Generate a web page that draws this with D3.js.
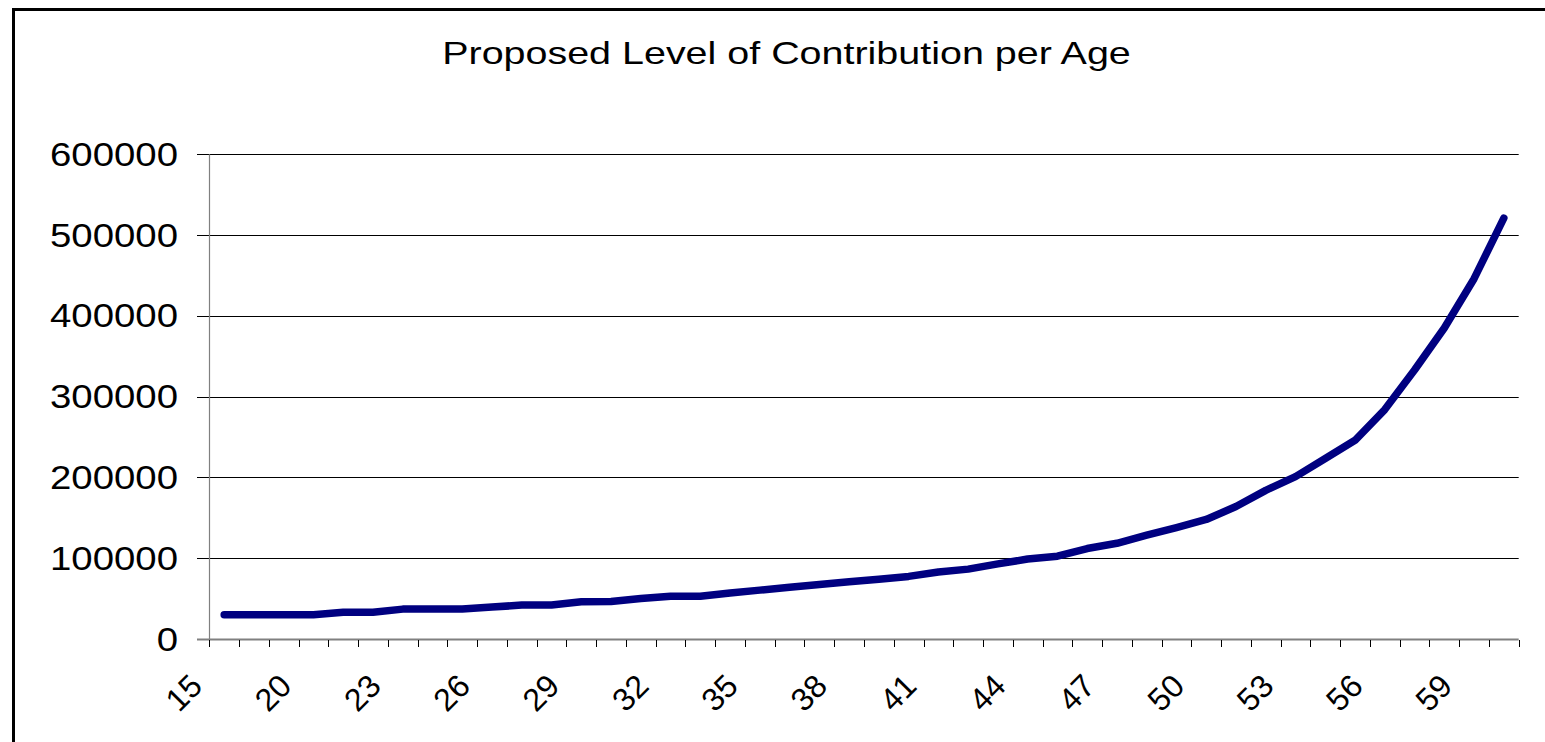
<!DOCTYPE html>
<html>
<head>
<meta charset="utf-8">
<script src="https://cdn.jsdelivr.net/npm/d3@7"></script>
<style>
  html, body { margin: 0; padding: 0; background: #ffffff; overflow: hidden; }
  svg { display: block; }
  text { font-family: "Liberation Sans", Arial, sans-serif; fill: #000; }
</style>
</head>
<body>
<svg id="chart" width="1545" height="742"></svg>
<script>
// Age categories along the horizontal axis
const ages = [15, 18, 19, 20, 21, 22, 23, 24, 25, 26, 27, 28, 29, 30, 31, 32, 33, 34, 35, 36, 37, 38,
              39, 40, 41, 42, 43, 44, 45, 46, 47, 48, 49, 50, 51, 52, 53, 54, 55, 56, 57, 58, 59, 60];

// Proposed contribution level for each age
const contribution = [30000, 30000, 30000, 30000, 33000, 33000, 37000, 37000, 37000, 39500,
                      42000, 42000, 46000, 46500, 50000, 53000, 53000, 57000, 60500, 64000,
                      67500, 71000, 74000, 77500, 83000, 86500, 93000, 99000, 102500, 112000,
                      118500, 128500, 138000, 148000, 164000, 184000, 201000, 223500, 246000, 284000,
                      333000, 385000, 446000, 521000];

// Value axis ticks
const yTicks = [0, 100000, 200000, 300000, 400000, 500000, 600000];

// Every third age gets a label
const xLabelAges = ages.filter((d, i) => i % 3 === 0);

const chartTitle = "Proposed Level of Contribution per Age";

const svg = d3.select("#chart");

const plot = { left: 209.3, right: 1518.7, top: 154.3, bottom: 639 };

const x = d3.scaleBand().domain(ages).range([plot.left, plot.right]).padding(0);
const y = d3.scaleLinear().domain([0, 600000]).range([plot.bottom, plot.top]);

// Outer chart frame: left and top edges (the rest runs off the page)
svg.append("path")
  .attr("d", "M13.5,742 V9.5 H1545")
  .attr("fill", "none").attr("stroke", "#000").attr("stroke-width", 3);

// Title
const title = svg.append("text")
  .attr("x", 786.5).attr("y", 64)
  .attr("text-anchor", "middle")
  .style("font-size", "31px")
  .text(chartTitle);
const tw = title.node().getComputedTextLength();
title.attr("transform", `translate(786.5,0) scale(${689 / tw},1) translate(-786.5,0)`);

// Horizontal gridlines (with short tick stubs left of the axis)
svg.append("g")
  .selectAll("line")
  .data(yTicks.filter(d => d > 0))
  .join("line")
  .attr("x1", 197).attr("x2", plot.right)
  .attr("y1", d => Math.round(y(d)) + 0.5).attr("y2", d => Math.round(y(d)) + 0.5)
  .attr("stroke", "#000").attr("stroke-width", 1);

// Value axis line
svg.append("line")
  .attr("x1", 209.5).attr("x2", 209.5)
  .attr("y1", plot.top).attr("y2", plot.bottom)
  .attr("stroke", "#808080").attr("stroke-width", 1.2);

// Value axis labels
const yLabels = svg.append("g");
yLabels.selectAll("text")
  .data(yTicks)
  .join("text")
  .attr("text-anchor", "end")
  .style("font-size", "34px")
  .text(d => String(d));
const widest = yLabels.selectAll("text").filter(d => d === 600000).node().getComputedTextLength();
const sx = 128 / widest;
yLabels.selectAll("text")
  .attr("transform", d => `translate(178,${y(d) + 11.5}) scale(${sx},1)`);

// Category axis line with tick marks on category boundaries
svg.append("line")
  .attr("x1", 197).attr("x2", plot.right)
  .attr("y1", 639.5).attr("y2", 639.5)
  .attr("stroke", "#808080").attr("stroke-width", 2);

const boundaries = ages.map(a => x(a)).concat([plot.right]);
svg.append("g")
  .selectAll("line")
  .data(boundaries)
  .join("line")
  .attr("x1", d => Math.round(d) + 0.5).attr("x2", d => Math.round(d) + 0.5)
  .attr("y1", 640).attr("y2", 647)
  .attr("stroke", "#000").attr("stroke-width", 1);

// Category labels, rotated
svg.append("g")
  .selectAll("text")
  .data(xLabelAges)
  .join("text")
  .attr("text-anchor", "end")
  .style("font-size", "32px")
  .attr("transform", d => {
    const cx = x(d) + x.bandwidth() / 2 - 20;
    return `translate(${cx},688) rotate(-45)`;
  })
  .text(d => String(d));

// Contribution line
const line = d3.line()
  .x((d, i) => x(ages[i]) + x.bandwidth() / 2)
  .y(d => y(d));

svg.append("path")
  .datum(contribution)
  .attr("d", line)
  .attr("fill", "none")
  .attr("stroke", "#000080")
  .attr("stroke-width", 7.5)
  .attr("stroke-linecap", "round")
  .attr("stroke-linejoin", "round");
</script>
</body>
</html>
